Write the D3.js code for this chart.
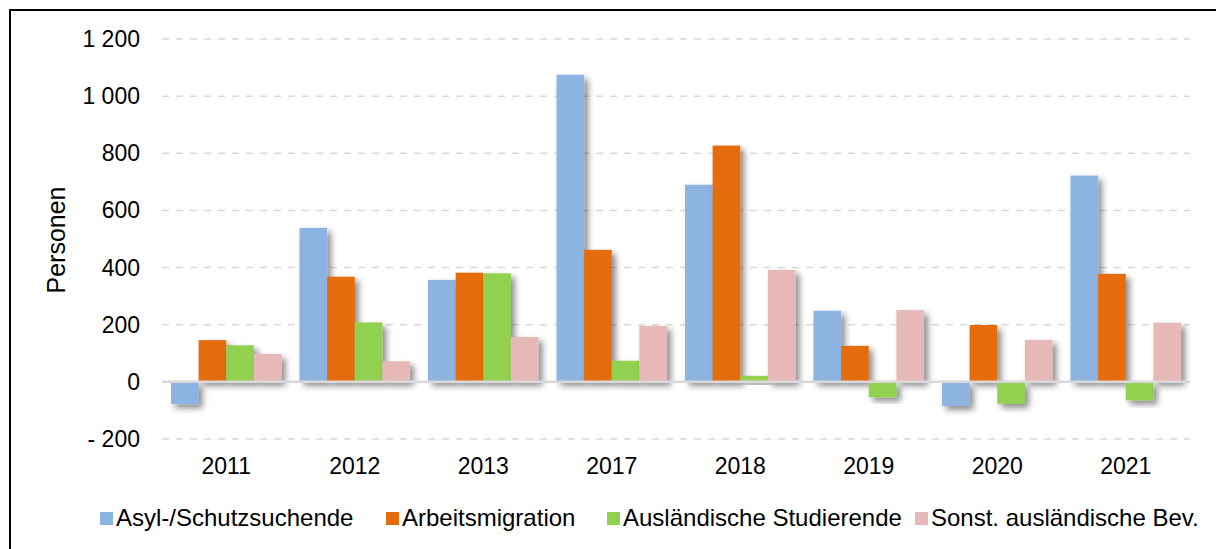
<!DOCTYPE html>
<meta charset="utf-8">
<script src="https://d3js.org/d3.v7.min.js"></script>
<style>
  body { margin: 0; background: #fff; }
  text { font-family: Arial, "Liberation Sans", sans-serif; fill: #000; }
</style>
<div id="chart"></div>
<script>

// data
var years = ["2011", "2012", "2013", "2017", "2018", "2019", "2020", "2021"];
var seriesNames = ["Asyl-/Schutzsuchende", "Arbeitsmigration", "Ausländische Studierende", "Sonst. ausländische Bev."];
var asyl     = [-78, 539, 357, 1075, 690, 249, -84, 722];
var arbeit   = [146, 368, 382, 462, 827, 126, 199, 378];
var studium  = [128, 208, 380, 74, 21, -54, -77, -65];
var sonstige = [98, 72, 157, 196, 392, 251, 147, 207];
var yTicks = [-200, 0, 200, 400, 600, 800, 1000, 1200];

var allSeries = [asyl, arbeit, studium, sonstige];
var colors = ["#8DB3E2", "#E46C0A", "#92D050", "#E6B9B8"];

var W = 1216, H = 549;
var svg = d3.select("#chart").append("svg")
  .attr("width", W).attr("height", H);

// outer frame
svg.append("rect")
  .attr("x", 10).attr("y", 10)
  .attr("width", W + 20).attr("height", H + 20)
  .attr("fill", "none").attr("stroke", "#000").attr("stroke-width", 2);

// drop shadow for the bars
var defs = svg.append("defs");
var f = defs.append("filter").attr("id", "shadow")
  .attr("x", "-20%").attr("y", "-20%").attr("width", "160%").attr("height", "160%");
f.append("feDropShadow")
  .attr("dx", 4).attr("dy", 4).attr("stdDeviation", 3)
  .attr("flood-color", "#000").attr("flood-opacity", 0.45);

var left = 162, right = 1190;
var x = d3.scaleBand().domain(years).range([left, right]).paddingInner(0.14).paddingOuter(0.07);
var xs = d3.scaleBand().domain(d3.range(4)).range([0, x.bandwidth()]);
var y = d3.scaleLinear().domain([-200, 1200]).range([439, 39]);

// grid lines
svg.append("g").selectAll("line")
  .data(yTicks.filter(function(d){ return d !== 0; }))
  .enter().append("line")
    .attr("x1", left).attr("x2", right)
    .attr("y1", function(d){ return y(d); }).attr("y2", function(d){ return y(d); })
    .attr("stroke", "#d9d9d9").attr("stroke-width", 1.5)
    .attr("stroke-dasharray", "7,7");

// y tick labels
var fmt = function(d) {
  if (d < 0) return "- " + fmt(-d);
  return d3.format(",")(d).replace(/,/g, " ");
};
svg.append("g").selectAll("text")
  .data(yTicks).enter().append("text")
    .attr("x", 140).attr("y", function(d){ return y(d); })
    .attr("dy", "0.35em").attr("text-anchor", "end")
    .style("font-size", "23px")
    .text(fmt);

// y axis title
svg.append("text")
  .attr("transform", "translate(65,240) rotate(-90)")
  .attr("text-anchor", "middle")
  .style("font-size", "25px")
  .text("Personen");

// bars
var groups = svg.append("g").selectAll("g")
  .data(years).enter().append("g")
    .attr("transform", function(d){ return "translate(" + x(d) + ",0)"; });

groups.selectAll("rect")
  .data(function(d, i){ return allSeries.map(function(s, k){ return {k: k, v: s[i]}; }); })
  .enter().append("rect")
    .attr("x", function(d){ return xs(d.k); })
    .attr("width", xs.bandwidth())
    .attr("y", function(d){ return y(Math.max(0, d.v)); })
    .attr("height", function(d){ return Math.abs(y(d.v) - y(0)); })
    .attr("fill", function(d){ return colors[d.k]; })
    .attr("filter", "url(#shadow)");

// zero line
svg.append("line")
  .attr("x1", left).attr("x2", right)
  .attr("y1", y(0)).attr("y2", y(0))
  .attr("stroke", "#d9d9d9").attr("stroke-width", 2.5);

// x labels
svg.append("g").selectAll("text")
  .data(years).enter().append("text")
    .attr("x", function(d){ return x(d) + x.bandwidth() / 2; })
    .attr("y", 474)
    .attr("text-anchor", "middle")
    .style("font-size", "23px")
    .text(function(d){ return d; });

// legend
var legendX = [100, 386, 607, 915];
var legend = svg.append("g").selectAll("g")
  .data(seriesNames).enter().append("g")
    .attr("transform", function(d, i){ return "translate(" + legendX[i] + ",512)"; });
legend.append("rect")
  .attr("width", 13).attr("height", 13)
  .attr("fill", function(d, i){ return colors[i]; });
legend.append("text")
  .attr("x", 16).attr("y", 14)
  .style("font-size", "24px")
  .text(function(d){ return d; });

</script>
